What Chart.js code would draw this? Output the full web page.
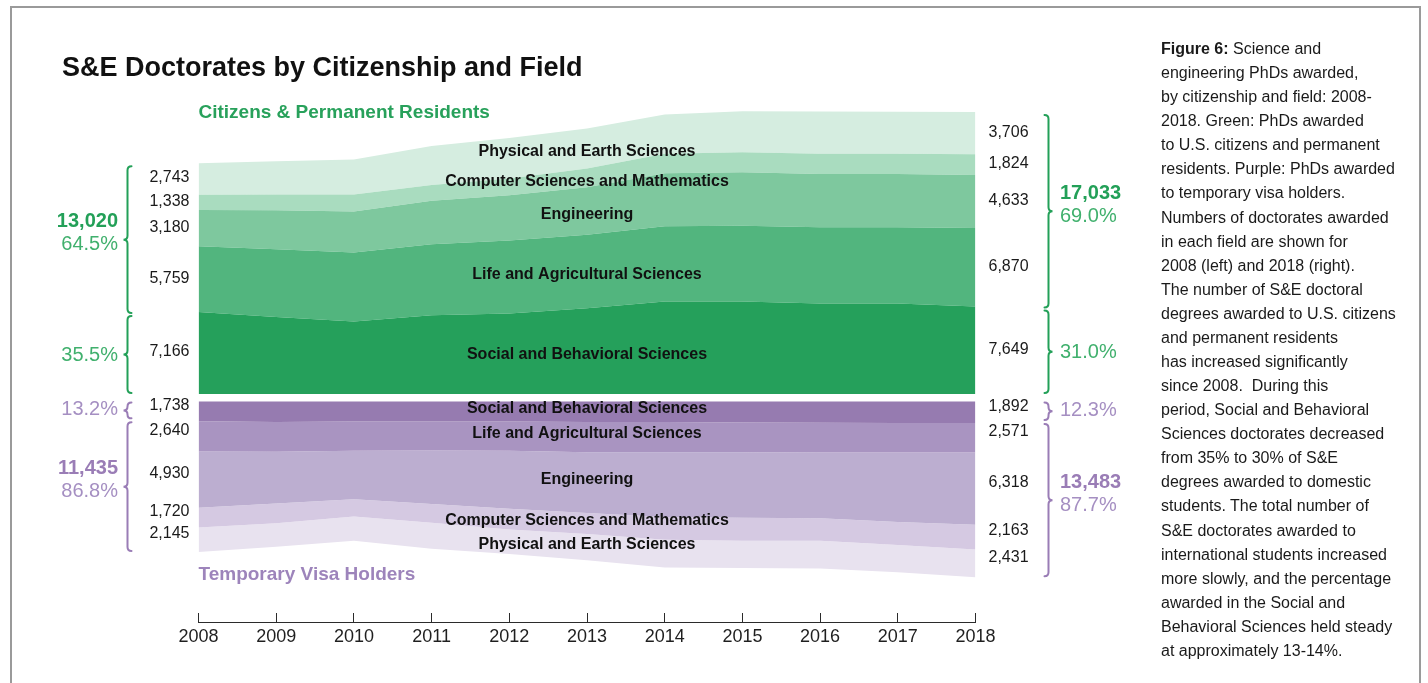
<!DOCTYPE html>
<html>
<head>
<meta charset="utf-8">
<script src="https://cdn.jsdelivr.net/npm/chart.js@4.4.1/dist/chart.umd.min.js"></script>
<style>
html,body{margin:0;padding:0;background:#fff;width:1428px;height:683px;overflow:hidden;font-family:"Liberation Sans",Arial,sans-serif;}
#frame{position:absolute;left:10px;top:6px;width:1411px;height:720px;border:2px solid #9a9a9a;box-sizing:border-box;}
#c{position:absolute;left:0;top:0;}
#title{position:absolute;left:62px;top:51px;font-weight:bold;font-size:27px;line-height:32px;color:#111;white-space:nowrap;}
#note{position:absolute;left:1161px;top:37px;font-size:16px;line-height:24.08px;color:#1a1a1a;white-space:nowrap;}
</style>
</head>
<body>
<div id="frame"></div>
<canvas id="c" width="1428" height="683"></canvas>
<div id="title">S&amp;E Doctorates by Citizenship and Field</div>
<div id="note"><b>Figure 6:</b> Science and<br>engineering PhDs awarded,<br>by citizenship and field: 2008-<br>2018. Green: PhDs awarded<br>to U.S. citizens and permanent<br>residents. Purple: PhDs awarded<br>to temporary visa holders.<br>Numbers of doctorates awarded<br>in each field are shown for<br>2008 (left) and 2018 (right).<br>The number of S&amp;E doctoral<br>degrees awarded to U.S. citizens<br>and permanent residents<br>has increased significantly<br>since 2008.&nbsp; During this<br>period, Social and Behavioral<br>Sciences doctorates decreased<br>from 35% to 30% of S&amp;E<br>degrees awarded to domestic<br>students. The total number of<br>S&amp;E doctorates awarded to<br>international students increased<br>more slowly, and the percentage<br>awarded in the Social and<br>Behavioral Sciences held steady<br>at approximately 13-14%.</div>
<script>
// ---- data ----
const years = ['2008','2009','2010','2011','2012','2013','2014','2015','2016','2017','2018'];
const fields = ['Social and Behavioral Sciences','Life and Agricultural Sciences','Engineering','Computer Sciences and Mathematics','Physical and Earth Sciences'];

// Citizens & permanent residents (bottom to top)
const citSocial = [7166, 6740, 6350, 6890, 7040, 7500, 8100, 8100, 7920, 7920, 7649];
const citLife   = [5759, 5920, 6030, 6210, 6390, 6440, 6580, 6630, 6670, 6670, 6870];
const citEng    = [3180, 3410, 3590, 3800, 3960, 4140, 4630, 4670, 4660, 4660, 4633];
const citCS     = [1338, 1380, 1480, 1380, 1460, 1650, 1710, 1760, 1770, 1770, 1824];
const citPhys   = [2743, 2910, 3060, 3410, 3560, 3500, 3440, 3590, 3700, 3680, 3706];

// Temporary visa holders (top to bottom)
const visaSocial = [1738, 1790, 1760, 1740, 1750, 1790, 1800, 1830, 1860, 1880, 1892];
const visaLife   = [2640, 2610, 2550, 2550, 2550, 2640, 2650, 2620, 2600, 2590, 2571];
const visaEng    = [4930, 4530, 4240, 4670, 5080, 5330, 5650, 5730, 5760, 6080, 6318];
const visaCS     = [1720, 1720, 1520, 1640, 1810, 1840, 2000, 2010, 1960, 2010, 2163];
const visaPhys   = [2145, 2060, 2120, 2290, 2150, 2290, 2430, 2370, 2430, 2370, 2431];

const labelYear = '2013';

// ---- styles ----
const greenFills  = ['#25a05b', '#52b57e', '#7ec89e', '#a9dcbf', '#d5ede0'];
const purpleFills = ['#967bb0', '#a994c1', '#bcaed0', '#d5c9e2', '#e8e2ef'];
const GREEN_MAIN = '#23a058', GREEN_LIGHT = '#40b06d';
const PURPLE_MAIN = '#9a7db6', PURPLE_LIGHT = '#a58fc2';
const FONT = "'Liberation Sans', Arial, sans-serif";

const citSeries = [citSocial, citLife, citEng, citCS, citPhys];
const visaSeries = [visaSocial, visaLife, visaEng, visaCS, visaPhys];

const datasets = [];
citSeries.forEach((d, i) => datasets.push({
  label: fields[i], data: d, yAxisID: 'y',
  backgroundColor: greenFills[i], borderColor: greenFills[i], borderWidth: 0,
  pointRadius: 0, tension: 0, fill: i === 0 ? 'origin' : '-1'
}));
visaSeries.forEach((d, i) => datasets.push({
  label: fields[i], data: d, yAxisID: 'y2',
  backgroundColor: purpleFills[i], borderColor: purpleFills[i], borderWidth: 0,
  pointRadius: 0, tension: 0, fill: i === 0 ? 'origin' : '-1'
}));

function brace(ctx, x, y1, y2, dir, color) {
  const ym = (y1 + y2) / 2, r = Math.min(4, (y2 - y1) / 4);
  ctx.beginPath();
  ctx.moveTo(x - dir * r, y1);
  ctx.quadraticCurveTo(x, y1, x, y1 + r);
  ctx.lineTo(x, ym - r);
  ctx.quadraticCurveTo(x, ym, x + dir * r, ym);
  ctx.quadraticCurveTo(x, ym, x, ym + r);
  ctx.lineTo(x, y2 - r);
  ctx.quadraticCurveTo(x, y2, x - dir * r, y2);
  ctx.strokeStyle = color; ctx.lineWidth = 2; ctx.lineCap = 'round';
  ctx.stroke();
  return ym;
}

const annot = {
  id: 'annot',
  afterDraw(chart) {
    const ctx = chart.ctx;
    const xs = chart.scales.x, yc = chart.scales.y, yv = chart.scales.y2;
    const fmt = v => v.toLocaleString('en-US');
    const pct = v => (v * 100).toFixed(1) + '%';
    const last = years.length - 1;
    const li = years.indexOf(labelYear);
    ctx.save();
    ctx.textBaseline = 'middle';

    const groups = [
      {scale: yc, series: citSeries, off: -1, catOff: 3.5, main: GREEN_MAIN, light: GREEN_LIGHT},
      {scale: yv, series: visaSeries, off: -6, catOff: -3, main: PURPLE_MAIN, light: PURPLE_LIGHT}
    ];
    groups.forEach(g => {
      const s = g.scale;
      // number labels at 2008 (left) and 2018 (right), category names at labelYear
      [0, last, li].forEach(idx => {
        let cum = 0;
        g.series.forEach((d, i) => {
          const yBand = s.getPixelForValue(cum + d[idx] / 2);
          cum += d[idx];
          if (idx === li) {
            ctx.font = 'bold 16px ' + FONT; ctx.fillStyle = '#111'; ctx.textAlign = 'center';
            ctx.fillText(fields[i], xs.getPixelForValue(idx), yBand + g.catOff);
          } else {
            ctx.font = '16px ' + FONT; ctx.fillStyle = '#1a1a1a';
            if (idx === 0) { ctx.textAlign = 'right'; ctx.fillText(fmt(d[idx]), xs.left - 9, yBand + g.off); }
            else { ctx.textAlign = 'left'; ctx.fillText(fmt(d[idx]), xs.right + 13, yBand + g.off); }
          }
        });
      });
      // braces and totals
      [[0, 127.5, -1, 118, 'right'], [last, 1048.5, 1, 1060, 'left']].forEach(([idx, bx, dir, tx, align]) => {
        const soc = g.series[0][idx];
        let tot = 0; g.series.forEach(d => tot += d[idx]);
        const rest = tot - soc;
        const p0 = s.getPixelForValue(0), pS = s.getPixelForValue(soc), pT = s.getPixelForValue(tot);
        let bigTip, smallTip;
        if (s === yc) {
          bigTip = brace(ctx, bx, pT + 3, pS + 1, dir, g.main);
          smallTip = brace(ctx, bx, pS + 4, p0 - 1, dir, g.main);
        } else {
          smallTip = brace(ctx, bx, p0 + 1, pS - 3, dir, g.main);
          bigTip = brace(ctx, bx, pS + 1, pT - 1, dir, g.main);
        }
        ctx.textAlign = align;
        ctx.font = 'bold 20px ' + FONT; ctx.fillStyle = g.main;
        ctx.fillText(fmt(rest), tx, bigTip - 18);
        ctx.font = '20px ' + FONT; ctx.fillStyle = g.light;
        ctx.fillText(pct(rest / tot), tx, bigTip + 5);
        ctx.fillText(pct(soc / tot), tx, smallTip + (s === yc ? 1 : -1));
      });
    });

    // group titles
    ctx.textAlign = 'left';
    ctx.font = 'bold 19px ' + FONT;
    ctx.fillStyle = '#28a15b';
    ctx.fillText('Citizens & Permanent Residents', xs.left, 113);
    ctx.fillStyle = '#9d84bb';
    ctx.fillText('Temporary Visa Holders', xs.left, 575);
    ctx.restore();
  }
};

Chart.defaults.font.family = FONT;
new Chart(document.getElementById('c'), {
  type: 'line',
  data: {labels: years, datasets},
  options: {
    responsive: false,
    animation: false,
    events: [],
    layout: {padding: {left: 198.5, right: 452.5, top: 100, bottom: 21}},
    plugins: {legend: {display: false}, tooltip: {enabled: false}},
    scales: {
      x: {
        type: 'category', offset: false,
        border: {display: true, color: '#2b2b2b', width: 1},
        grid: {display: true, drawOnChartArea: false, drawTicks: true, tickLength: -9, color: '#2b2b2b', lineWidth: 1},
        ticks: {color: '#1f1f1f', font: {size: 18}, padding: 13.2, autoSkip: false, maxRotation: 0},
        afterFit(s) { s.height = 40; }
      },
      y: {display: false, stacked: true, min: 0, max: 25725, stack: 'doc', stackWeight: 294, weight: 2},
      y2: {display: false, stacked: true, reverse: true, min: -656, max: 19294, stack: 'doc', stackWeight: 228, weight: 1}
    }
  },
  plugins: [annot]
});
</script>
</body>
</html>
